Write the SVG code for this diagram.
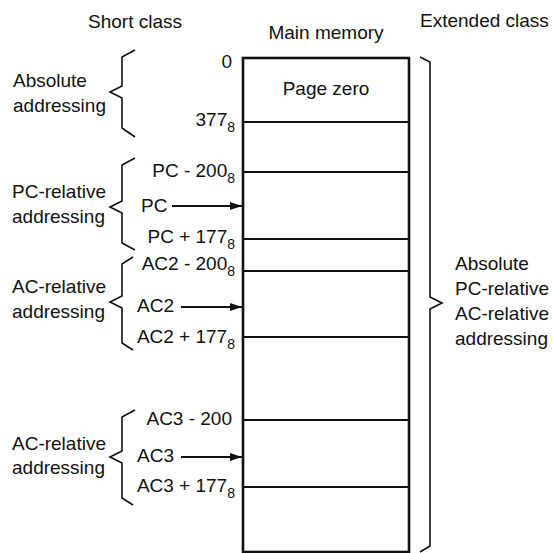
<svg xmlns="http://www.w3.org/2000/svg" width="553" height="553" viewBox="0 0 553 553">
<style>
text{font-family:"Liberation Sans",Arial,sans-serif;font-size:19px;fill:#111}
.e{text-anchor:end}
.m{text-anchor:middle}
.sub{font-size:14px}
.box{fill:#fff;stroke:#111;stroke-width:2.6}
.div{stroke:#111;stroke-width:2}
.br{fill:none;stroke:#111;stroke-width:1.6;stroke-linejoin:miter}
.ar{stroke:#111;stroke-width:2;fill:none}
</style>
<defs>
<marker id="ah" viewBox="0 0 12 8" refX="12" refY="4" markerWidth="12" markerHeight="8" markerUnits="userSpaceOnUse" orient="auto">
<path d="M0,0 L12,4 L0,8 Z" fill="#111"/>
</marker>
</defs>
<g id="headers">
<text class="m" x="135" y="28">Short class</text>
<text class="m" x="326" y="39">Main memory</text>
<text x="420" y="27">Extended class</text>
</g>
<g id="memory">
<rect class="box" x="243" y="58" width="166" height="494"/>
<line class="div" x1="243" y1="122" x2="409" y2="122"/>
<line class="div" x1="243" y1="172" x2="409" y2="172"/>
<line class="div" x1="243" y1="239" x2="409" y2="239"/>
<line class="div" x1="243" y1="271" x2="409" y2="271"/>
<line class="div" x1="243" y1="337" x2="409" y2="337"/>
<line class="div" x1="243" y1="420" x2="409" y2="420"/>
<line class="div" x1="243" y1="487" x2="409" y2="487"/>
<text class="m" x="326" y="95">Page zero</text>
</g>
<g id="absolute">
<path class="br" d="M135,50 L122,57 L122,86 L110,92 L122,98 L122,128 L135,137"/>
<text x="13" y="87">Absolute</text>
<text x="13" y="112">addressing</text>
<text class="e" x="232" y="68">0</text>
<text class="e" x="235" y="126">377<tspan class="sub" dy="6">8</tspan></text>
</g>
<g id="pc-relative">
<path class="br" d="M135,158 L122,165 L122,201 L110,207 L122,213 L122,243 L135,250"/>
<text x="12" y="198">PC-relative</text>
<text x="12" y="223">addressing</text>
<text class="e" x="235" y="177">PC - 200<tspan class="sub" dy="6">8</tspan></text>
<text x="141" y="212">PC</text>
<text class="e" x="235" y="243">PC + 177<tspan class="sub" dy="6">8</tspan></text>
</g>
<g id="ac2-relative">
<path class="br" d="M133,257 L122,264 L122,296 L110,302 L122,308 L122,343 L133,350"/>
<text x="12" y="293">AC-relative</text>
<text x="12" y="318">addressing</text>
<text class="e" x="235" y="270">AC2 - 200<tspan class="sub" dy="6">8</tspan></text>
<text x="137" y="312">AC2</text>
<text class="e" x="235" y="343">AC2 + 177<tspan class="sub" dy="6">8</tspan></text>
</g>
<g id="ac3-relative">
<path class="br" d="M135,410 L122,417 L122,451 L110,457 L122,463 L122,498 L133,505"/>
<text x="12" y="450">AC-relative</text>
<text x="12" y="474">addressing</text>
<text class="e" x="232" y="425">AC3 - 200</text>
<text x="137" y="462">AC3</text>
<text class="e" x="235" y="492">AC3 + 177<tspan class="sub" dy="6">8</tspan></text>
</g>
<g id="extended">
<path class="br" d="M420,57 L430,62 L430,297 L442,303 L430,309 L430,546 L420,552"/>
<text x="455" y="270">Absolute</text>
<text x="455" y="295">PC-relative</text>
<text x="455" y="320">AC-relative</text>
<text x="455" y="345">addressing</text>
</g>
<g id="connectors">
<line class="ar" x1="172" y1="206" x2="242" y2="206" marker-end="url(#ah)"/>
<line class="ar" x1="181" y1="307" x2="242" y2="307" marker-end="url(#ah)"/>
<line class="ar" x1="181" y1="457" x2="242" y2="457" marker-end="url(#ah)"/>
</g>
</svg>
